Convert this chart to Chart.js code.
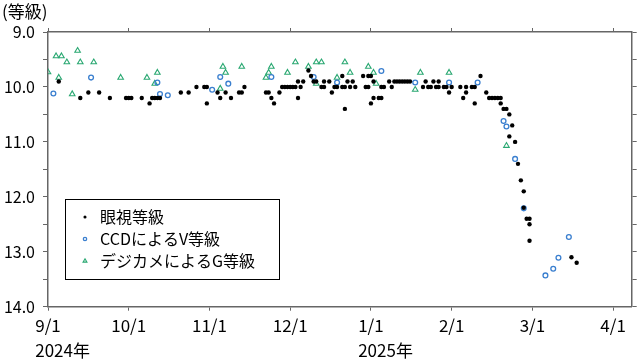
<!DOCTYPE html>
<html>
<head>
<meta charset="utf-8">
<script src="https://cdn.jsdelivr.net/npm/chart.js@4.4.1/dist/chart.umd.min.js"></script>
<style>
  html, body { margin: 0; padding: 0; background: #fff; }
  #wrap { width: 640px; height: 362px; }
</style>
</head>
<body>
<div id="wrap"><canvas id="lc"></canvas></div>
<script>
// tick labels (one per month start, Sep 2024 .. Apr 2025)
var monthLabels = ['9/1', '10/1', '11/1', '12/1', '1/1', '2/1', '3/1', '4/1'];
var yearLabels = ['2024年', '', '', '', '2025年', '', '', ''];

// 眼視等級
var visualDates = [
  '2024-09-05','2024-09-13','2024-09-16','2024-09-20','2024-09-24','2024-09-30',
  '2024-10-01','2024-10-02','2024-10-06','2024-10-09','2024-10-10','2024-10-11','2024-10-12','2024-10-13',
  '2024-10-21','2024-10-24','2024-10-27','2024-10-30','2024-10-31','2024-10-31',
  '2024-11-04','2024-11-05','2024-11-07','2024-11-09','2024-11-12','2024-11-13','2024-11-14',
  '2024-11-22','2024-11-23','2024-11-24','2024-11-25','2024-11-27','2024-11-28','2024-11-29','2024-11-30',
  '2024-12-01','2024-12-02','2024-12-03','2024-12-04','2024-12-04','2024-12-05','2024-12-06',
  '2024-12-08','2024-12-09','2024-12-10','2024-12-11','2024-12-13','2024-12-14','2024-12-14','2024-12-16',
  '2024-12-17','2024-12-18','2024-12-19','2024-12-21','2024-12-21','2024-12-22','2024-12-22','2024-12-23',
  '2024-12-24','2024-12-25','2024-12-26','2024-12-29','2024-12-30','2024-12-31','2024-12-31',
  '2025-01-01','2025-01-01','2025-01-02','2025-01-02','2025-01-04','2025-01-05','2025-01-05','2025-01-06',
  '2025-01-08','2025-01-09','2025-01-10','2025-01-11','2025-01-12','2025-01-13','2025-01-14','2025-01-15','2025-01-16',
  '2025-01-21','2025-01-22','2025-01-23','2025-01-24','2025-01-25','2025-01-26','2025-01-27','2025-01-27',
  '2025-01-29','2025-01-30','2025-01-31',
  '2025-02-01','2025-02-04','2025-02-05','2025-02-06','2025-02-06','2025-02-08','2025-02-09','2025-02-09',
  '2025-02-11','2025-02-13','2025-02-14','2025-02-15','2025-02-16','2025-02-17','2025-02-18','2025-02-18',
  '2025-02-19','2025-02-20','2025-02-21','2025-02-21','2025-02-22','2025-02-23','2025-02-24','2025-02-25',
  '2025-02-26','2025-02-26','2025-02-27','2025-02-28','2025-02-28','2025-02-28',
  '2025-03-16','2025-03-18'
];
var visualMags = [
  9.9, 10.2, 10.1, 10.1, 10.2, 10.2,
  10.2, 10.2, 10.2, 10.3, 10.2, 10.2, 10.2, 10.2,
  10.1, 10.1, 10.0, 10.0, 10.0, 10.3,
  10.1, 10.2, 10.1, 10.2, 10.1, 10.1, 10.0,
  10.1, 10.1, 10.2, 10.3, 10.1, 10.0, 10.0, 10.0,
  10.0, 10.0, 10.0, 10.2, 9.9, 10.0, 9.9,
  9.7, 9.8, 9.9, 9.9, 10.0, 10.0, 9.9, 9.9,
  10.1, 10.0, 10.0, 10.0, 9.8, 10.0, 10.4, 9.9,
  10.0, 9.9, 10.0, 9.8, 10.0, 10.0, 9.8,
  9.8, 10.3, 10.2, 9.9, 10.2, 10.2, 10.0, 10.0,
  9.9, 10.0, 9.9, 9.9, 9.9, 9.9, 9.9, 9.9, 9.9,
  10.0, 9.9, 10.0, 10.0, 9.9, 10.0, 10.0, 9.9,
  10.0, 10.0, 10.1,
  10.0, 10.0, 10.2, 10.1, 10.0, 10.0, 10.0, 10.3,
  9.8, 10.1, 10.2, 10.2, 10.2, 10.2, 10.2, 10.3,
  10.4, 10.4, 10.5, 10.9, 10.7, 11.0, 11.4, 11.7,
  11.9, 12.2, 12.4, 12.5, 12.8, 12.4,
  13.1, 13.2
];

// CCDによるV等級
var ccdDates = [
  '2024-09-03','2024-09-17','2024-10-12','2024-10-13','2024-10-16','2024-11-02','2024-11-05','2024-11-08',
  '2024-11-24','2024-12-10','2024-12-19','2025-01-05','2025-01-18','2025-01-31','2025-02-10','2025-02-19',
  '2025-02-20','2025-02-23','2025-02-26','2025-03-06','2025-03-09','2025-03-11','2025-03-15'
];
var ccdMags = [
  10.12, 9.83, 9.92, 10.13, 10.15, 10.05, 9.82, 9.94,
  9.82, 9.82, 9.92, 9.71, 9.92, 9.92, 9.92, 10.62,
  10.72, 11.31, 12.21, 13.43, 13.31, 13.11, 12.73
];

// デジカメによるG等級
var dslrDates = [
  '2024-09-01','2024-09-04','2024-09-05','2024-09-06','2024-09-08','2024-09-10','2024-09-12','2024-09-13',
  '2024-09-18','2024-09-28','2024-10-08','2024-10-11','2024-10-12','2024-11-05','2024-11-06','2024-11-07',
  '2024-11-13','2024-11-22','2024-11-23','2024-11-24','2024-11-30','2024-12-03','2024-12-08','2024-12-11',
  '2024-12-13','2024-12-11','2024-12-19','2024-12-22','2024-12-24','2024-12-31','2025-01-02','2025-01-03',
  '2025-01-18','2025-01-20','2025-01-31','2025-02-20'
];
var dslrMags = [
  9.73, 9.44, 9.83, 9.44, 9.55, 10.13, 9.34, 9.55,
  9.55, 9.83, 9.83, 9.94, 9.74, 10.03, 9.63, 9.74,
  9.63, 9.83, 9.74, 9.63, 9.74, 9.55, 9.63, 9.55,
  9.55, 9.94, 9.83, 9.55, 9.74, 9.63, 9.74, 9.94,
  10.05, 9.74, 9.74, 11.07
];

var FONT = "'Noto Sans CJK JP', 'Noto Sans', sans-serif";
var AXIS = '#666';

// month-based x: each month gets the same width
function toX(s) {
  var p = s.split('-').map(Number);
  var idx = (p[0] - 2024) * 12 + p[1] - 9;
  var dim = new Date(p[0], p[1], 0).getDate();
  return idx + (p[2] - 1) / dim;
}
function pts(dates, mags) {
  return dates.map(function (d, i) { return { x: toX(d), y: mags[i] }; });
}
function monthTicks(scale) {
  scale.ticks = monthLabels.map(function (_, i) { return { value: i }; });
}

var legendBox = {
  id: 'legendBox',
  afterDatasetsDraw: function (chart) {
    var ctx = chart.ctx, a = chart.chartArea;
    var bx = a.left + 17, by = a.top + 167;
    ctx.save();
    ctx.fillStyle = '#fff';
    ctx.fillRect(bx, by, 214, 80);
    ctx.strokeStyle = '#000';
    ctx.lineWidth = 1;
    ctx.strokeRect(bx + 0.5, by + 0.5, 214, 80);
    chart.data.datasets.forEach(function (ds, i) {
      var y = by + 18 + i * 22;
      ctx.fillStyle = ds.backgroundColor;
      ctx.strokeStyle = ds.borderColor;
      ctx.lineWidth = ds.borderWidth;
      Chart.helpers.drawPoint(ctx, {
        pointStyle: ds.pointStyle, radius: ds.pointRadius * 0.7,
        borderWidth: ds.borderWidth, rotation: 0
      }, bx + 20, y);
      ctx.fillStyle = '#000';
      ctx.font = '16px ' + FONT;
      ctx.textAlign = 'left';
      ctx.textBaseline = 'middle';
      ctx.fillText(ds.label, bx + 35, y);
    });
    ctx.restore();
  },
  afterDraw: function (chart) {
    var ctx = chart.ctx, xs = chart.scales.x;
    ctx.save();
    ctx.font = '17px ' + FONT;
    ctx.fillStyle = '#000';
    ctx.textAlign = 'left';
    ctx.textBaseline = 'middle';
    yearLabels.forEach(function (t, i) {
      if (!t) return;
      var px = xs.getPixelForValue(i);
      var w = ctx.measureText(monthLabels[i]).width;
      ctx.fillText(t, px - w / 2, xs.top + 44);
    });
    ctx.restore();
  }
};

var ctx = document.getElementById('lc').getContext('2d');
var chart = new Chart(ctx, {
  type: 'scatter',
  data: {
    datasets: [{
      label: '眼視等級',
      data: pts(visualDates, visualMags),
      pointStyle: 'circle',
      pointRadius: 2.2,
      backgroundColor: '#000',
      borderColor: '#000',
      borderWidth: 0
    }, {
      label: 'CCDによるV等級',
      data: pts(ccdDates, ccdMags),
      pointStyle: 'circle',
      pointRadius: 2.4,
      backgroundColor: 'rgba(0,0,0,0)',
      borderColor: '#3a7fcf',
      borderWidth: 1.3
    }, {
      label: 'デジカメによるG等級',
      data: pts(dslrDates, dslrMags),
      pointStyle: 'triangle',
      pointRadius: 3.2,
      backgroundColor: 'rgba(0,0,0,0)',
      borderColor: '#2aa872',
      borderWidth: 1.1
    }]
  },
  options: {
    responsive: true,
    maintainAspectRatio: false,
    animation: false,
    layout: { padding: { left: 2, right: 0, top: 0, bottom: 0 } },
    scales: {
      x: {
        type: 'linear',
        position: 'bottom',
        min: 0,
        max: 7.23,
        afterBuildTicks: monthTicks,
        afterFit: function (s) { s.height = 55.3; },
        border: { color: AXIS, width: 1.5 },
        grid: { drawOnChartArea: false, color: AXIS, tickLength: 4 },
        ticks: {
          padding: 5,
          color: '#000',
          font: { size: 17, family: FONT },
          callback: function (v) { return monthLabels[v] || ''; }
        }
      },
      x2: {
        type: 'linear',
        position: 'top',
        min: 0,
        max: 7.23,
        afterBuildTicks: monthTicks,
        afterFit: function (s) { s.height = 10.1; },
        border: { color: AXIS, width: 1.5 },
        grid: { drawOnChartArea: false, color: AXIS, tickLength: 4 },
        ticks: { display: false }
      },
      y: {
        position: 'left',
        reverse: true,
        min: 9,
        max: 14,
        afterFit: function (s) { s.width = 46; },
        border: { color: AXIS, width: 1.5 },
        grid: { drawOnChartArea: false, color: AXIS, tickLength: 5 },
        ticks: {
          stepSize: 0.5,
          padding: 8,
          color: '#000',
          font: { size: 16, family: FONT },
          callback: function (v) { return Number.isInteger(v) ? v.toFixed(1) : ''; }
        }
      },
      y2: {
        position: 'right',
        reverse: true,
        min: 9,
        max: 14,
        afterFit: function (s) { s.width = 8.3; },
        border: { color: AXIS, width: 1.5 },
        grid: { drawOnChartArea: false, color: AXIS, tickLength: 5 },
        ticks: { display: false, stepSize: 0.5 }
      }
    },
    plugins: {
      legend: { display: false },
      tooltip: { enabled: false },
      title: {
        display: true,
        text: '(等級)',
        align: 'start',
        color: '#000',
        font: { size: 17, family: FONT, weight: 'normal' },
        padding: { top: 1.5, bottom: 0 }
      }
    }
  },
  plugins: [legendBox]
});
</script>
</body>
</html>
